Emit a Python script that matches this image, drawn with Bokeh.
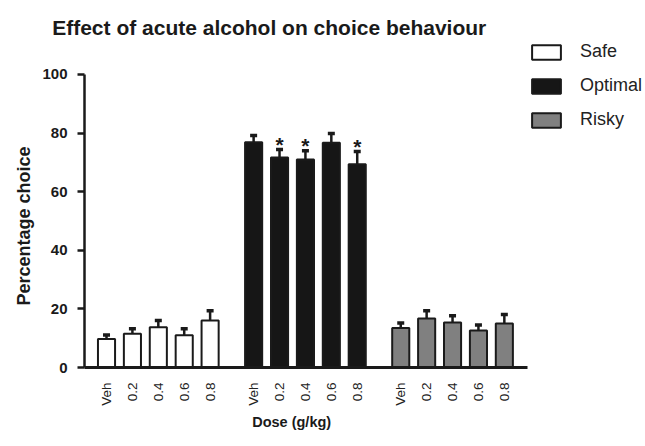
import math
from bokeh.plotting import figure
from bokeh.models import (Range1d, FixedTicker, Whisker, TeeHead, ColumnDataSource,
                          Legend, LegendItem, Title)
from bokeh.embed import file_html
from bokeh.resources import INLINE

# ---------------- data ----------------
categories = ["Safe", "Optimal", "Risky"]
doses = ["Veh", "0.2", "0.4", "0.6", "0.8"]
safe = [9.7, 11.5, 13.7, 11.0, 16.0]
safe_err = [1.4, 1.7, 2.3, 2.2, 3.4]
optimal = [76.9, 71.7, 71.0, 76.7, 69.4]
optimal_err = [2.3, 2.7, 3.0, 3.2, 4.3]
risky = [13.5, 16.7, 15.4, 12.6, 15.0]
risky_err = [1.7, 2.7, 2.3, 1.9, 3.1]
optimal_sig = [False, True, True, False, True]
y_ticks = [0, 20, 40, 60, 80, 100]

title_text = "Effect of acute alcohol on choice behaviour"
x_title = "Dose (g/kg)"
y_title = "Percentage choice"

# ---------------- layout / style ----------------
FONT = "Liberation Sans"
INK = "#1a1a1a"
fills = {"Safe": "#ffffff", "Optimal": "#161616", "Risky": "#808080"}
GROUP_STRIDE = len(doses) + 0.68
BAR_W = 0.66

p = figure(width=645, height=446, output_backend="svg", toolbar_location=None,
           x_range=Range1d(-0.85, 20.81), y_range=Range1d(0, 111.6),
           min_border_left=84, min_border_right=0, min_border_top=40, min_border_bottom=79)
p.outline_line_color = None
p.grid.visible = False
p.background_fill_color = "white"
p.border_fill_color = "white"

series = {"Safe": (safe, safe_err), "Optimal": (optimal, optimal_err), "Risky": (risky, risky_err)}
renderers = {}
tick_pos = []
tick_lab = {}
for gi, cat in enumerate(categories):
    vals, errs = series[cat]
    xs = [round(gi * GROUP_STRIDE + i, 2) for i in range(len(doses))]
    for x, d in zip(xs, doses):
        tick_pos.append(x)
        tick_lab[x] = d
    src = ColumnDataSource(dict(x=xs, top=vals, upper=[v + e for v, e in zip(vals, errs)]))
    r = p.vbar(x="x", top="top", width=BAR_W, bottom=0, source=src,
               fill_color=fills[cat], line_color=INK, line_width=2)
    renderers[cat] = r
    w = Whisker(source=src, base="x", lower="top", upper="upper", dimension="height",
                line_color=INK, line_width=2.5, lower_head=None,
                upper_head=TeeHead(size=7, line_width=3.5, line_color=INK))
    p.add_layout(w)
    if cat == "Optimal":
        sx = [x for x, s in zip(xs, optimal_sig) if s]
        sy = [v + e for v, e, s in zip(vals, errs, optimal_sig) if s]
        p.text(x=sx, y=sy, text=["*"] * len(sx), text_font_size="21px",
               text_font_style="bold", text_align="center", text_baseline="alphabetic",
               y_offset=-5, text_color=INK, text_font={"value": FONT})

# axes
xa = p.xaxis[0]
xa.ticker = FixedTicker(ticks=tick_pos)
xa.major_label_overrides = tick_lab
xa.major_label_orientation = math.pi / 2
xa.bounds = (-0.85, 16.25)
xa.axis_line_width = 3
xa.axis_line_color = INK
xa.major_tick_line_color = None
xa.minor_tick_line_color = None
xa.major_label_standoff = 9
xa.major_label_text_font = FONT
xa.major_label_text_font_size = "13.5px"
xa.major_label_text_color = "#222222"

ya = p.yaxis[0]
ya.ticker = FixedTicker(ticks=y_ticks)
ya.bounds = (0, 100)
ya.axis_line_width = 2.5
ya.axis_line_color = INK
ya.major_tick_line_color = INK
ya.major_tick_line_width = 2.5
ya.major_tick_out = 7
ya.major_tick_in = 0
ya.minor_tick_line_color = None
ya.major_label_standoff = 10
ya.major_label_text_font = FONT
ya.major_label_text_font_size = "15px"
ya.major_label_text_font_style = "bold"
ya.major_label_text_color = INK

# titles (chart title and axis titles)
p.title.text = title_text
p.title.text_font = FONT
p.title.text_font_size = "21px"
p.title.text_font_style = "bold"
p.title.text_color = INK
p.title.align = "left"
p.title.offset = -32.3
p.title.standoff = 4

p.add_layout(Title(text=x_title, text_font=FONT, text_font_size="14.5px",
                   text_font_style="bold", text_color=INK, align="left",
                   offset=167.7, standoff=7), "below")
p.add_layout(Title(text=y_title, text_font=FONT, text_font_size="18px",
                   text_font_style="bold", text_color=INK, align="left",
                   offset=62, standoff=12), "left")

# legend
legend = Legend(items=[LegendItem(label=c, renderers=[renderers[c]]) for c in categories],
                location=(444, 237), glyph_width=36, glyph_height=18, label_height=18,
                spacing=13, label_standoff=16, padding=0, margin=0,
                border_line_color=None, background_fill_alpha=0,
                label_text_font=FONT, label_text_font_size="18px",
                label_text_color="#222222")
p.add_layout(legend)

open("out.html", "w").write(file_html(p, INLINE))
